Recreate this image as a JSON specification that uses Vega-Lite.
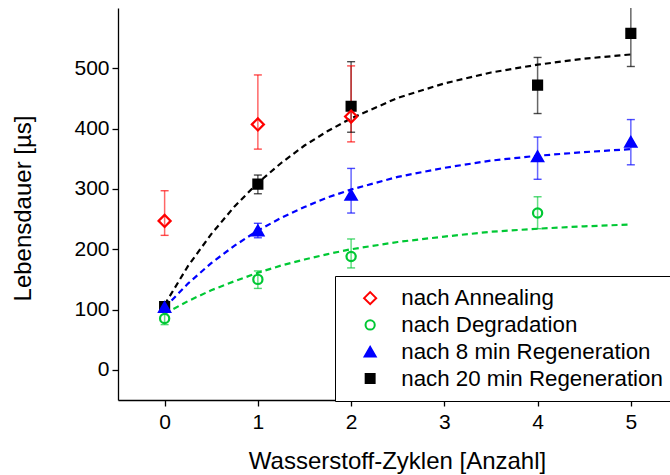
{
  "$schema": "https://vega.github.io/schema/vega-lite/v6.json",
  "width": 552,
  "height": 392,
  "autosize": {"type": "none"},
  "padding": {"left": 118, "top": 8, "right": 0, "bottom": 75},
  "background": "white",
  "config": {
    "font": "Liberation Sans",
    "view": {"stroke": null},
    "axis": {
      "domainColor": "black",
      "domainWidth": 1.3,
      "tickColor": "black",
      "tickWidth": 1.3,
      "grid": false,
      "labelColor": "black",
      "titleColor": "black",
      "labelFont": "Liberation Sans",
      "titleFont": "Liberation Sans",
      "titleFontWeight": "normal"
    },
    "legend": {
      "fillColor": "white",
      "strokeColor": "black",
      "padding": 11,
      "labelFont": "Liberation Sans",
      "labelFontSize": 22.3,
      "labelColor": "black",
      "labelLimit": 500,
      "rowPadding": 3.8,
      "symbolOffset": 13,
      "labelOffset": 20,
      "symbolStrokeWidth": 2
    }
  },
  "datasets": {
    "points": [
      {"zyklen": 0, "dauer": 105, "lo": 99, "hi": 111, "serie": "nach 20 min Regeneration"},
      {"zyklen": 1, "dauer": 308, "lo": 292, "hi": 323, "serie": "nach 20 min Regeneration"},
      {"zyklen": 2, "dauer": 437, "lo": 394, "hi": 511, "serie": "nach 20 min Regeneration"},
      {"zyklen": 4, "dauer": 472, "lo": 425, "hi": 518, "serie": "nach 20 min Regeneration"},
      {"zyklen": 5, "dauer": 558, "lo": 503, "hi": 614, "serie": "nach 20 min Regeneration"},
      {"zyklen": 0, "dauer": 104, "lo": 98, "hi": 110, "serie": "nach 8 min Regeneration"},
      {"zyklen": 1, "dauer": 231, "lo": 219, "hi": 243, "serie": "nach 8 min Regeneration"},
      {"zyklen": 2, "dauer": 290, "lo": 260, "hi": 334, "serie": "nach 8 min Regeneration"},
      {"zyklen": 4, "dauer": 354, "lo": 316, "hi": 386, "serie": "nach 8 min Regeneration"},
      {"zyklen": 5, "dauer": 378, "lo": 340, "hi": 415, "serie": "nach 8 min Regeneration"},
      {"zyklen": 0, "dauer": 85, "lo": 75, "hi": 96, "serie": "nach Degradation"},
      {"zyklen": 1, "dauer": 150, "lo": 135, "hi": 164, "serie": "nach Degradation"},
      {"zyklen": 2, "dauer": 188, "lo": 169, "hi": 217, "serie": "nach Degradation"},
      {"zyklen": 4, "dauer": 260, "lo": 234, "hi": 287, "serie": "nach Degradation"},
      {"zyklen": 0, "dauer": 247, "lo": 223, "hi": 297, "serie": "nach Annealing"},
      {"zyklen": 1, "dauer": 407, "lo": 366, "hi": 489, "serie": "nach Annealing"},
      {"zyklen": 2, "dauer": 420, "lo": 378, "hi": 504, "serie": "nach Annealing"}
    ],
    "fits": [
      {"zyklen": 0, "dauer": 108, "serie": "nach 20 min Regeneration"},
      {"zyklen": 0.25, "dauer": 172, "serie": "nach 20 min Regeneration"},
      {"zyklen": 0.5, "dauer": 225, "serie": "nach 20 min Regeneration"},
      {"zyklen": 0.75, "dauer": 271, "serie": "nach 20 min Regeneration"},
      {"zyklen": 1, "dauer": 310, "serie": "nach 20 min Regeneration"},
      {"zyklen": 1.25, "dauer": 343, "serie": "nach 20 min Regeneration"},
      {"zyklen": 1.5, "dauer": 372, "serie": "nach 20 min Regeneration"},
      {"zyklen": 1.75, "dauer": 396, "serie": "nach 20 min Regeneration"},
      {"zyklen": 2, "dauer": 417, "serie": "nach 20 min Regeneration"},
      {"zyklen": 2.5, "dauer": 451, "serie": "nach 20 min Regeneration"},
      {"zyklen": 3, "dauer": 475, "serie": "nach 20 min Regeneration"},
      {"zyklen": 3.5, "dauer": 493, "serie": "nach 20 min Regeneration"},
      {"zyklen": 4, "dauer": 506, "serie": "nach 20 min Regeneration"},
      {"zyklen": 4.5, "dauer": 516, "serie": "nach 20 min Regeneration"},
      {"zyklen": 5, "dauer": 523, "serie": "nach 20 min Regeneration"},
      {"zyklen": 0, "dauer": 103, "serie": "nach 8 min Regeneration"},
      {"zyklen": 0.25, "dauer": 143, "serie": "nach 8 min Regeneration"},
      {"zyklen": 0.5, "dauer": 177, "serie": "nach 8 min Regeneration"},
      {"zyklen": 0.75, "dauer": 206, "serie": "nach 8 min Regeneration"},
      {"zyklen": 1, "dauer": 231, "serie": "nach 8 min Regeneration"},
      {"zyklen": 1.25, "dauer": 252, "serie": "nach 8 min Regeneration"},
      {"zyklen": 1.5, "dauer": 270, "serie": "nach 8 min Regeneration"},
      {"zyklen": 1.75, "dauer": 286, "serie": "nach 8 min Regeneration"},
      {"zyklen": 2, "dauer": 299, "serie": "nach 8 min Regeneration"},
      {"zyklen": 2.5, "dauer": 320, "serie": "nach 8 min Regeneration"},
      {"zyklen": 3, "dauer": 335, "serie": "nach 8 min Regeneration"},
      {"zyklen": 3.5, "dauer": 347, "serie": "nach 8 min Regeneration"},
      {"zyklen": 4, "dauer": 355, "serie": "nach 8 min Regeneration"},
      {"zyklen": 4.5, "dauer": 361, "serie": "nach 8 min Regeneration"},
      {"zyklen": 5, "dauer": 366, "serie": "nach 8 min Regeneration"},
      {"zyklen": 0, "dauer": 93, "serie": "nach Degradation"},
      {"zyklen": 0.25, "dauer": 114, "serie": "nach Degradation"},
      {"zyklen": 0.5, "dauer": 132, "serie": "nach Degradation"},
      {"zyklen": 0.75, "dauer": 147, "serie": "nach Degradation"},
      {"zyklen": 1, "dauer": 161, "serie": "nach Degradation"},
      {"zyklen": 1.25, "dauer": 173, "serie": "nach Degradation"},
      {"zyklen": 1.5, "dauer": 183, "serie": "nach Degradation"},
      {"zyklen": 1.75, "dauer": 192, "serie": "nach Degradation"},
      {"zyklen": 2, "dauer": 200, "serie": "nach Degradation"},
      {"zyklen": 2.5, "dauer": 212, "serie": "nach Degradation"},
      {"zyklen": 3, "dauer": 221, "serie": "nach Degradation"},
      {"zyklen": 3.5, "dauer": 229, "serie": "nach Degradation"},
      {"zyklen": 4, "dauer": 234, "serie": "nach Degradation"},
      {"zyklen": 4.5, "dauer": 238, "serie": "nach Degradation"},
      {"zyklen": 5, "dauer": 241, "serie": "nach Degradation"}
    ]
  },
  "encoding": {
    "x": {
      "field": "zyklen",
      "type": "quantitative",
      "scale": {"domain": [-0.5, 5.42], "nice": false, "zero": false},
      "axis": {
        "title": "Wasserstoff-Zyklen [Anzahl]",
        "values": [0, 1, 2, 3, 4, 5],
        "format": "d",
        "labelFontSize": 21,
        "titleFontSize": 24,
        "tickSize": 6,
        "labelPadding": 5,
        "titleX": 279,
        "titleY": 49,
        "titleBaseline": "top"
      }
    },
    "y": {
      "field": "dauer",
      "type": "quantitative",
      "scale": {"domain": [-50, 600], "nice": false, "zero": false},
      "axis": {
        "title": "Lebensdauer [µs]",
        "values": [0, 100, 200, 300, 400, 500],
        "labelFontSize": 21,
        "titleFontSize": 24,
        "tickSize": 6,
        "labelPadding": 3,
        "titleX": -95,
        "titleY": 200,
        "titleBaseline": "middle"
      }
    }
  },
  "layer": [
    {
      "data": {"name": "fits"},
      "mark": {"type": "line", "strokeDash": [6, 4], "strokeWidth": 2.2, "clip": true},
      "encoding": {
        "color": {
          "field": "serie",
          "type": "nominal",
          "scale": {
            "domain": ["nach 20 min Regeneration", "nach 8 min Regeneration", "nach Degradation", "nach Annealing"],
            "range": ["#000000", "#0000ff", "#00c834", "#ff0000"]
          },
          "legend": null
        }
      }
    },
    {
      "data": {"name": "points"},
      "mark": {"type": "rule", "strokeWidth": 1.5, "opacity": 0.6, "clip": true},
      "encoding": {
        "y": {"field": "lo", "type": "quantitative"},
        "y2": {"field": "hi"},
        "color": {"field": "serie", "type": "nominal", "legend": null}
      }
    },
    {
      "data": {"name": "points"},
      "mark": {"type": "tick", "orient": "horizontal", "size": 8, "thickness": 1.4, "clip": true},
      "encoding": {
        "y": {"field": "lo", "type": "quantitative"},
        "color": {"field": "serie", "type": "nominal", "legend": null}
      }
    },
    {
      "data": {"name": "points"},
      "mark": {"type": "tick", "orient": "horizontal", "size": 8, "thickness": 1.4, "clip": true},
      "encoding": {
        "y": {"field": "hi", "type": "quantitative"},
        "color": {"field": "serie", "type": "nominal", "legend": null}
      }
    },
    {
      "data": {"name": "points"},
      "mark": {"type": "point", "strokeWidth": 2.2, "opacity": 1, "clip": true},
      "encoding": {
        "shape": {
          "field": "serie",
          "type": "nominal",
          "scale": {
            "domain": ["nach Annealing", "nach Degradation", "nach 8 min Regeneration", "nach 20 min Regeneration"],
            "range": ["diamond", "circle", "triangle-up", "square"]
          },
          "legend": {"title": null, "orient": "none", "legendX": 217, "legendY": 268}
        },
        "stroke": {
          "field": "serie",
          "type": "nominal",
          "scale": {
            "domain": ["nach Annealing", "nach Degradation", "nach 8 min Regeneration", "nach 20 min Regeneration"],
            "range": ["#ff0000", "#00c834", "#0000ff", "#000000"]
          },
          "legend": {"title": null, "orient": "none", "legendX": 217, "legendY": 268}
        },
        "fill": {
          "field": "serie",
          "type": "nominal",
          "scale": {
            "domain": ["nach Annealing", "nach Degradation", "nach 8 min Regeneration", "nach 20 min Regeneration"],
            "range": ["transparent", "transparent", "#0000ff", "#000000"]
          },
          "legend": {"title": null, "orient": "none", "legendX": 217, "legendY": 268}
        },
        "size": {
          "field": "serie",
          "type": "nominal",
          "scale": {
            "type": "ordinal",
            "domain": ["nach Annealing", "nach Degradation", "nach 8 min Regeneration", "nach 20 min Regeneration"],
            "range": [145, 85, 120, 80]
          },
          "legend": {"title": null, "orient": "none", "legendX": 217, "legendY": 268}
        }
      }
    },
    {
      "mark": {"type": "rule", "color": "black", "strokeWidth": 1.3},
      "encoding": {
        "y": {"datum": 600},
        "x": {"datum": -0.5},
        "x2": {"datum": 5.42}
      }
    }
  ]
}
